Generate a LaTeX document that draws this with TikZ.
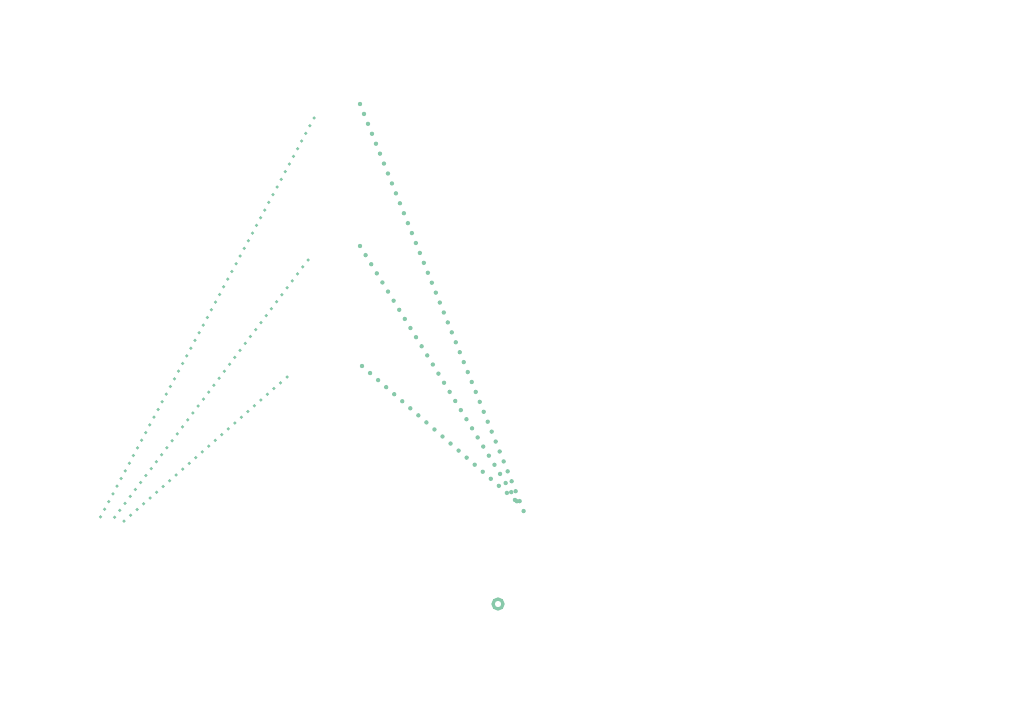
\documentclass[tikz,border=0pt]{standalone}
\usepackage{fontspec}
\setmainfont{Liberation Sans}
\definecolor{dotgreen}{RGB}{136,201,170}
\tikzset{
  thin dots/.style={dotgreen, line width=3.5pt, line cap=round, dash pattern=on 0pt off 8.7pt},
  thick dots/.style={dotgreen, line width=4.4pt, line cap=round, dash pattern=on 0pt off 10.7pt},
  label/.style={text=white, font=\fontsize{13}{15}\selectfont, anchor=west, inner sep=0pt},
  ring/.style={draw=dotgreen, line width=3.2pt, fill=white, circle, minimum size=10pt, inner sep=0pt}
}
\begin{document}
\begin{tikzpicture}[x=1pt,y=-1pt]
\fill[white] (0,0) rectangle (1024,722);
\useasboundingbox (0,0) rectangle (1024,722);
% anchor coordinates of the three icons and the two ends
\coordinate (t1l) at (314,118);
\coordinate (t2l) at (308,260);
\coordinate (t3l) at (287,377);
\coordinate (t1r) at (360,104);
\coordinate (t2r) at (360,246);
\coordinate (t3r) at (362,366);
\coordinate (bl1) at (100,518);
\coordinate (bl2) at (111,522);
\coordinate (bl3) at (123,522);
\coordinate (br1) at (526,517);
\coordinate (br2) at (521,508);
\coordinate (br3) at (515,500);
% connectors
\draw[thin dots] (t1l) -- (bl1);
\draw[thin dots] (t2l) -- (bl2);
\draw[thin dots] (t3l) -- (bl3);
\draw[thick dots] (t1r) -- (br1);
\draw[thick dots] (t2r) -- (br2);
\draw[thick dots] (t3r) -- (br3);
% texts (white)
\node[label] (a1) at (405,97) {Attribute};
\node[label] (a2) at (405,120) {Spread};
\node[label] (a3) at (510,97) {→ 42.5\% average};
\node[label] (a4) at (510,120) {→ High variance};
\node[label] (a5) at (693,97) {Headline summary};
\node[label] (a6) at (693,122) {Detailed finding text};
\node[label] (a7) at (693,145) {spans multiple lines};
\node[label] (b1) at (405,183) {Scale};
\node[label] (b2) at (510,183) {24 hours};
\node[label] (b3) at (693,183) {Significant value with further explanation};
\node[label] (c1) at (490,282) {Chief};
\node[label] (c2) at (490,305) {Process};
\node[label] (c3) at (490,325) {Details};
\node[label] (c4) at (590,282) {→ Primary outcome measure};
\node[label] (c5) at (590,305) {→ Regular review};
\node[label] (c6) at (590,325) {→ Reported hours};
\node[label] (d1) at (555,418) {Attribute};
\node[label] (d2) at (555,442) {Spread};
\node[label] (d3) at (555,465) {Status};
\node[label] (d4) at (650,418) {→ 12 months total};
\node[label] (d5) at (650,442) {→ Steady growth};
\node[label] (d6) at (650,465) {→ Confirmed};
\node[label] (e1) at (30,538) {Source dataset};
\node[label] (f1) at (495,548) {Source};
\node[label] (f2) at (495,575) {Metric};
\node[ring] (f3) at (498,604) {};
\end{tikzpicture}
\end{document}
